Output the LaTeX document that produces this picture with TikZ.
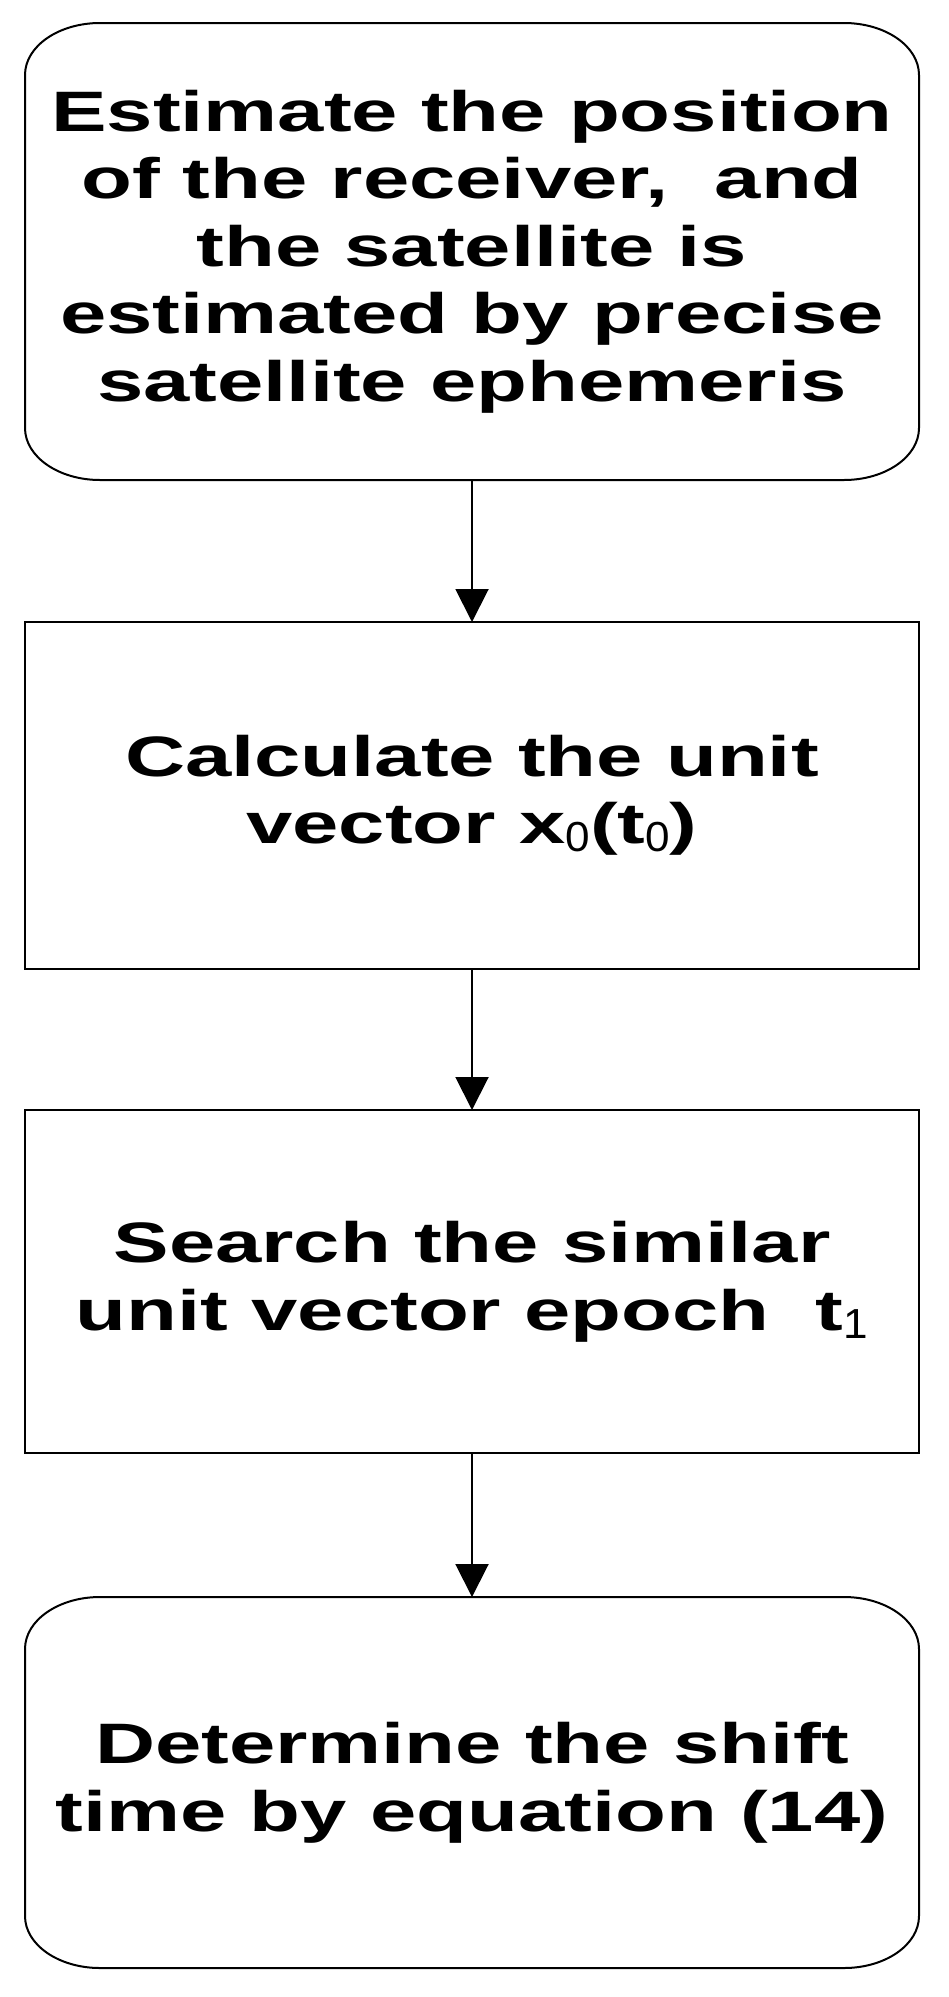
\documentclass[tikz,border=0pt]{standalone}
\usepackage{fontspec}
\usetikzlibrary{arrows.meta}
\newfontfamily\boxfont{Liberation Sans}[FakeStretch=1.46]
\newfontfamily\subfont{Liberation Sans}[FakeStretch=1.05]
\newcommand\sbs[1]{\raisebox{-8pt}{\subfont\mdseries\fontsize{42}{42}\selectfont #1}}
\newcommand\ellbox[1]{%
 \draw[roundline] ([xshift=75pt]#1.north west) -- ([xshift=-75pt]#1.north east)
   arc[start angle=90,end angle=0,x radius=75pt,y radius=52pt]
   -- ([yshift=52pt]#1.south east)
   arc[start angle=0,end angle=-90,x radius=75pt,y radius=52pt]
   -- ([xshift=75pt]#1.south west)
   arc[start angle=270,end angle=180,x radius=75pt,y radius=52pt]
   -- ([yshift=-52pt]#1.north west)
   arc[start angle=180,end angle=90,x radius=75pt,y radius=52pt] -- cycle;}
\tikzset{
  boxtext/.style={inner sep=0pt, outer sep=0pt, minimum width=894pt, align=center,
     font={\boxfont\bfseries\fontsize{57}{67.5}\selectfont}},
  plainbox/.style={boxtext, draw, line width=2.4pt},
  roundbox/.style={boxtext},
  roundline/.style={line width=2pt},
  flow/.style={line width=2pt, -{Triangle[length=33pt,width=33pt]}}
}
\begin{document}
\begin{tikzpicture}[x=1pt,y=1pt]
\useasboundingbox (0,0) rectangle (948,-1997);
\fill[white] (0,0) rectangle (948,-1997);
\node[roundbox, minimum height=457pt] (b1) at (472,-251.5)
  {Estimate the position\\of the receiver,\ \ and\\the satellite is\\estimated by precise\\satellite ephemeris};
\node[plainbox, minimum height=347pt] (b2) at (472,-795.5)
  {Calculate the unit\\vector x\sbs{0}(t\sbs{0})};
\node[plainbox, minimum height=343pt] (b3) at (472,-1281.5)
  {Search the similar\\unit vector epoch\ \ t\sbs{1}};
\node[roundbox, minimum height=371pt] (b4) at (472,-1782.5)
  {Determine the shift\\time by equation (14)};
\ellbox{b1}
\ellbox{b4}
\draw[flow] (b1.south) -- (b2.north);
\draw[flow] (b2.south) -- (b3.north);
\draw[flow] (b3.south) -- (b4.north);
\end{tikzpicture}
\end{document}
